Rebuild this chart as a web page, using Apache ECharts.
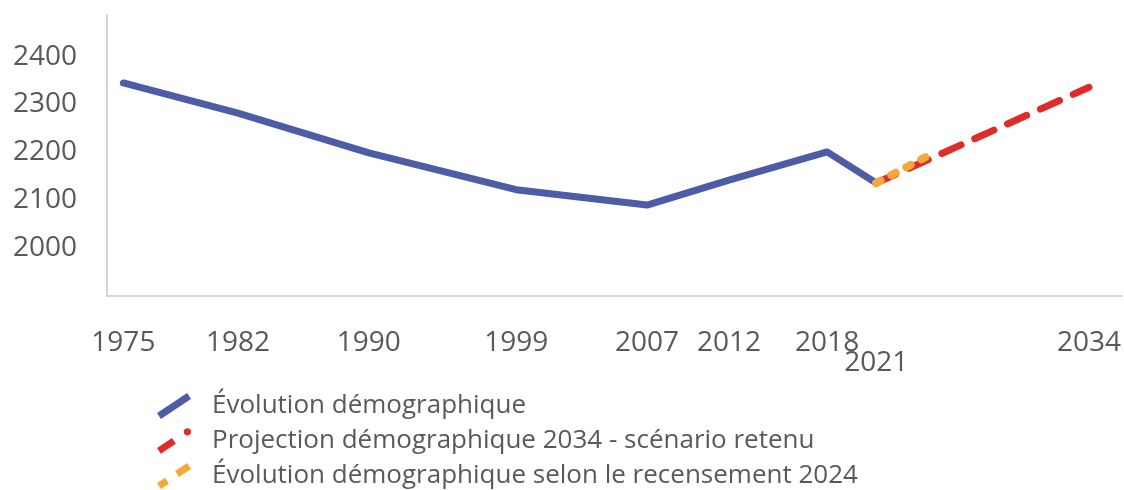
<!DOCTYPE html>
<html>
<head>
<meta charset="utf-8">
<script src="https://cdn.jsdelivr.net/npm/echarts@6/dist/echarts.min.js"></script>
<style>
  html, body { margin: 0; padding: 0; background: #ffffff; }
  #chart { width: 1124px; height: 490px; }
</style>
</head>
<body>
<div id="chart"></div>
<script>
// ---- Data ----
const evolutionYears = [1975, 1982, 1990, 1999, 2007, 2012, 2018, 2021];
const evolutionValues = [2345, 2282, 2199, 2122, 2090, 2142, 2201, 2136];

const projectionYears = [2021, 2034];
const projectionValues = [2136, 2336];

const recensementYears = [2021, 2024];
const recensementValues = [2136, 2190];

const xTickLabels = [1975, 1982, 1990, 1999, 2007, 2012, 2018, 2021, 2034];
const yTickLabels = [2000, 2100, 2200, 2300, 2400];

const seriesNames = [
  'Évolution démographique',
  'Projection démographique 2034 - scénario retenu',
  'Évolution démographique selon le recensement 2024'
];

// ---- Legend icons: slanted strokes like the original ----
const iconSolid = 'path://M1.06,20.09 L31.06,0.09 L34.94,5.91 L4.94,25.91 Z';
const iconDashed = 'path://M1.06,20.09 L16.06,10.09 L19.94,15.91 L4.94,25.91 Z ' +
  'M27.9,4 A3.6,3.6 0 1 1 35.1,4 A3.6,3.6 0 1 1 27.9,4 Z';
const iconDotted = 'path://M1.06,20.09 L9.06,14.79 L12.94,20.61 L4.94,25.91 Z ' +
  'M19.06,8.09 L31.06,0.09 L34.94,5.91 L22.94,13.91 Z';

function pairs(xs, ys) { return xs.map((x, i) => [x, ys[i]]); }

const FONT = '"Open Sans", "DejaVu Sans", sans-serif';
const TEXT = '#595959';
const AXIS = '#d6d6d6';

const chart = echarts.init(document.getElementById('chart'), null, { renderer: 'canvas' });
chart.setOption({
  animation: false,
  backgroundColor: '#ffffff',
  grid: { left: 107, right: 0, top: 15, bottom: 194 },
  xAxis: {
    type: 'value',
    min: 1974,
    max: 2036,
    axisLine: { show: true, lineStyle: { color: AXIS, width: 2 } },
    axisTick: { show: false },
    splitLine: { show: false },
    axisLabel: {
      customValues: xTickLabels,
      margin: 37,
      fontSize: 28,
      lineHeight: 20,
      color: TEXT,
      fontFamily: FONT,
      formatter: v => (v === 2021 ? '\n' + v : String(v))
    }
  },
  yAxis: {
    type: 'value',
    min: 1900,
    max: 2487,
    interval: 100,
    axisLine: { show: true, lineStyle: { color: AXIS, width: 2 } },
    axisTick: { show: false },
    splitLine: { show: false },
    axisLabel: {
      customValues: yTickLabels,
      margin: 30,
      fontSize: 28,
      color: TEXT,
      fontFamily: FONT,
      formatter: v => String(v)
    }
  },
  legend: {
    orient: 'vertical',
    left: 157,
    top: 393,
    padding: 0,
    height: 97,
    itemWidth: 34,
    itemHeight: 26,
    itemGap: 9,
    itemStyle: { borderWidth: 0 },
    textStyle: { fontSize: 26, color: TEXT, fontFamily: FONT, padding: [0, 0, 0, 16] },
    data: [
      { name: seriesNames[0], icon: iconSolid },
      { name: seriesNames[1], icon: iconDashed },
      { name: seriesNames[2], icon: iconDotted }
    ]
  },
  series: [
    {
      name: seriesNames[0],
      type: 'line',
      data: pairs(evolutionYears, evolutionValues),
      showSymbol: false,
      symbol: 'none',
      color: '#4e5ba6',
      lineStyle: { color: '#4e5ba6', width: 7, cap: 'round', join: 'round' }
    },
    {
      name: seriesNames[1],
      type: 'line',
      data: pairs(projectionYears, projectionValues),
      showSymbol: false,
      symbol: 'none',
      color: '#e02b2b',
      lineStyle: { color: '#e02b2b', width: 7, type: [21, 15], cap: 'round' }
    },
    {
      name: seriesNames[2],
      type: 'line',
      data: pairs(recensementYears, recensementValues),
      showSymbol: false,
      symbol: 'none',
      color: '#f5a83a',
      lineStyle: { color: '#f5a83a', width: 8, type: [5, 12], cap: 'round' }
    }
  ]
});
</script>
</body>
</html>
